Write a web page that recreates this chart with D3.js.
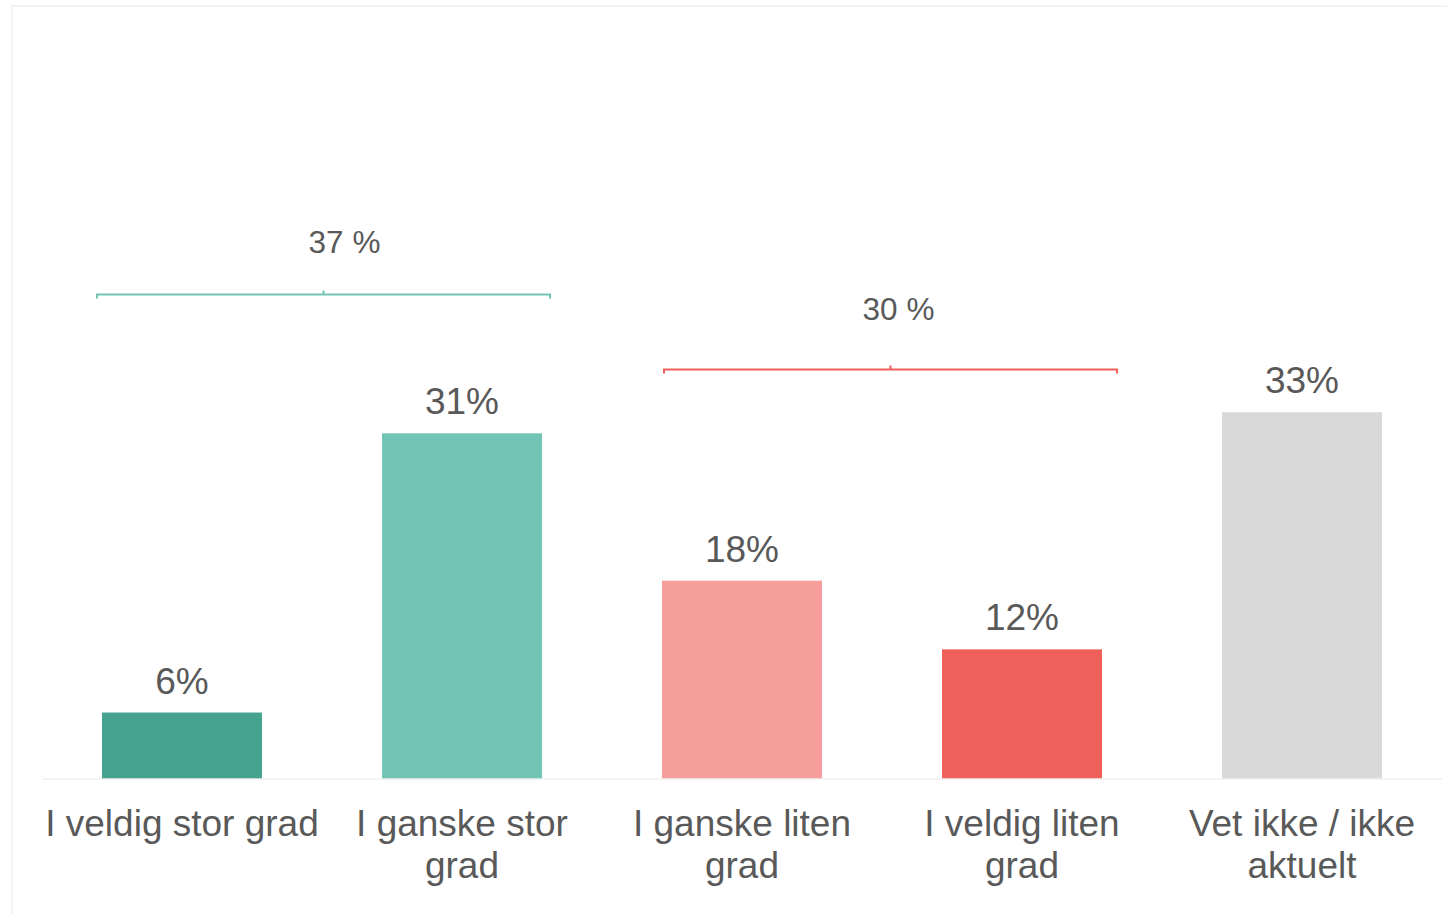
<!DOCTYPE html>
<html>
<head>
<meta charset="utf-8">
<script src="https://cdn.jsdelivr.net/npm/d3@7"></script>
<style>
  html, body { margin: 0; padding: 0; background: #ffffff; }
  svg { display: block; }
  text { font-family: "Liberation Sans", Arial, sans-serif; fill: #595959; }
</style>
</head>
<body>
<svg id="chart" width="1447" height="914"></svg>
<script>
// ---- data ----
const categories = ["I veldig stor grad", "I ganske stor\ngrad", "I ganske liten\ngrad", "I veldig liten\ngrad", "Vet ikke / ikke\naktuelt"];
const values = [6.0, 31.2, 17.9, 11.7, 33.1];
const valueLabels = ["6%", "31%", "18%", "12%", "33%"];
const barColors = ["#45a38f", "#72c4b4", "#f59e9b", "#f0605a", "#d9d9d9"];
const groupFrom = [0, 2];
const groupTo = [1, 3];
const groupLabels = ["37 %", "30 %"];
const groupColors = ["#72c4b4", "#f0605a"];
const groupLevels = [43.8, 37.0];

// ---- layout ----
const svg = d3.select("#chart");
const W = 1447, H = 914;
const left = 42, right = 1442, baseY = 779;
const pxPerPct = 11.08;
const yMax = 65;
const bracketShift = [1, 8];
const labelShift = [21, 8];
const labelGap = [42, 50];

const x = d3.scaleBand()
  .domain(d3.range(categories.length))
  .range([left, right])
  .paddingInner(3 / 7)
  .paddingOuter(1.5 / 7);

const y = d3.scaleLinear()
  .domain([0, yMax])
  .range([baseY, baseY - yMax * pxPerPct]);

// frame
svg.append("rect")
  .attr("x", 12).attr("y", 6)
  .attr("width", W + 20).attr("height", H + 20)
  .attr("fill", "none")
  .attr("stroke", "#efefef")
  .attr("stroke-width", 1.5);

// bars
svg.append("g").selectAll("rect")
  .data(values)
  .join("rect")
  .attr("x", (d, i) => x(i))
  .attr("y", d => y(d))
  .attr("width", x.bandwidth())
  .attr("height", d => y(0) - y(d))
  .attr("fill", (d, i) => barColors[i]);

// baseline
svg.append("line")
  .attr("x1", left).attr("x2", right)
  .attr("y1", y(0)).attr("y2", y(0))
  .attr("stroke", "#f0f0f0")
  .attr("stroke-width", 1.5);

// value labels
svg.append("g").selectAll("text")
  .data(values)
  .join("text")
  .attr("x", (d, i) => x(i) + x.bandwidth() / 2)
  .attr("y", d => y(d) - 19)
  .attr("text-anchor", "middle")
  .attr("font-size", 37)
  .text((d, i) => valueLabels[i]);

// category labels
const cat = svg.append("g").selectAll("text")
  .data(categories)
  .join("text")
  .attr("text-anchor", "middle")
  .attr("font-size", 37)
  .attr("y", 836);
cat.each(function(d, i) {
  const lines = d.split("\n");
  const t = d3.select(this);
  lines.forEach((ln, j) => {
    t.append("tspan")
      .attr("x", x(i) + x.bandwidth() / 2)
      .attr("y", 836 + j * 42)
      .text(ln);
  });
});

// group brackets
groupLabels.forEach((lab, g) => {
  const x0 = x(groupFrom[g]) - 6 + bracketShift[g];
  const x1 = x(groupTo[g]) + x.bandwidth() + 8 + bracketShift[g] - 1;
  const yy = Math.round(y(groupLevels[g])) + 0.5;
  const mid = (x0 + x1) / 2;
  const p = d3.path();
  p.moveTo(x0, yy + 4);
  p.lineTo(x0, yy);
  p.lineTo(x1, yy);
  p.lineTo(x1, yy + 4);
  p.moveTo(mid, yy);
  p.lineTo(mid, yy - 4);
  svg.append("path")
    .attr("d", p.toString())
    .attr("fill", "none")
    .attr("stroke", groupColors[g])
    .attr("stroke-width", 2);
  svg.append("text")
    .attr("x", mid + labelShift[g])
    .attr("y", yy - labelGap[g])
    .attr("text-anchor", "middle")
    .attr("font-size", 31.5)
    .text(lab);
});
</script>
</body>
</html>
